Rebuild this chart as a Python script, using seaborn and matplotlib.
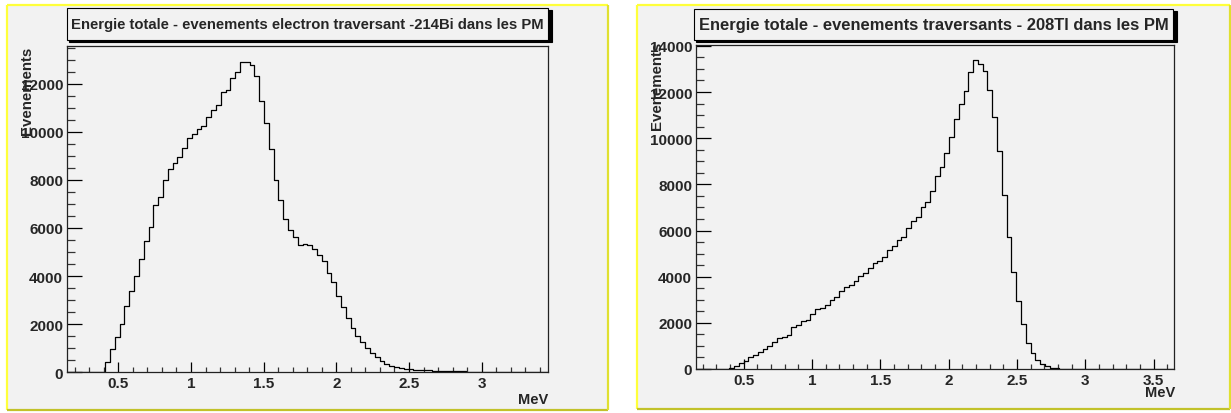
import numpy as np
import pandas as pd
import matplotlib
matplotlib.use("Agg")
import matplotlib.pyplot as plt
from matplotlib.patches import Rectangle
from matplotlib.ticker import MultipleLocator, FuncFormatter
import seaborn as sns

# ---------------- data ----------------
bi_title = "Energie totale - evenements electron traversant -214Bi dans les PM"
tl_title = "Energie totale - evenements traversants - 208Tl dans les PM"
y_label = "Evenements"
x_label = "MeV"

bi_range = (0.145, 3.456)
tl_range = (0.148, 3.649)
n_bins = 100

bi_counts = [0, 0, 0, 0, 0, 0, 0, 30, 415, 955,
             1453, 2007, 2740, 3391, 4014, 4692, 5467, 6034, 6962, 7280,
             8013, 8442, 8705, 8968, 9342, 9743, 9923, 10117, 10255, 10629,
             10906, 11127, 11653, 11736, 12221, 12484, 12885, 12913, 12760, 12331,
             11280, 10380, 9300, 8000, 7169, 6366, 5924, 5633, 5273, 5342,
             5273, 5107, 4886, 4636, 4110, 3737, 3169, 2726, 2270, 1855,
             1522, 1246, 996, 789, 623, 470, 360, 250, 200, 170,
             140, 125, 110, 100, 90, 80, 70, 60, 55, 50,
             45, 40, 35, 30, 25, 20, 0, 0, 0, 0,
             0, 0, 0, 0, 0, 0, 0, 0, 0, 0]

tl_counts = [0, 0, 0, 0, 0, 0, 0, 30, 115, 245,
             360, 505, 606, 721, 851, 1010, 1169, 1328, 1400, 1472,
             1804, 1905, 2063, 2136, 2367, 2597, 2655, 2785, 2973, 3117,
             3362, 3535, 3636, 3795, 4012, 4141, 4358, 4574, 4690, 4834,
             5152, 5310, 5570, 5700, 6118, 6421, 6566, 7027, 7215, 7691,
             8341, 8773, 9351, 10072, 10851, 11501, 12063, 12886, 13391, 13232,
             12929, 12092, 10938, 9423, 7532, 5700, 4214, 2929, 1948, 1126,
             693, 404, 216, 115, 60, 45, 20, 15, 12, 10,
             8, 5, 0, 0, 0, 0, 0, 0, 0, 0,
             0, 0, 0, 0, 0, 0, 0, 0, 0, 0]

bi_ymax = 13550
tl_ymax = 14050
bi_yticks = [0, 2000, 4000, 6000, 8000, 10000, 12000]
tl_yticks = [0, 2000, 4000, 6000, 8000, 10000, 12000, 14000]
bi_xticks = [0.5, 1, 1.5, 2, 2.5, 3]
tl_xticks = [0.5, 1, 1.5, 2, 2.5, 3, 3.5]

# ---------------- style ----------------
sns.set_style("ticks")
plt.rcParams['font.family'] = ['Liberation Sans', 'DejaVu Sans']
plt.rcParams['font.weight'] = 'bold'

W, H = 1231, 414
BG = '#f2f2f2'
fig = plt.figure(figsize=(W / 100, H / 100), dpi=100)
fig.patch.set_facecolor('white')


def fx(px):
    return px / W


def fy(py):
    return 1 - py / H


def pad_box(x0, y0, x1, y1):
    fig.add_artist(Rectangle((fx(x0), fy(y1)), fx(x1) - fx(x0), fy(y0) - fy(y1),
                             transform=fig.transFigure, facecolor=BG,
                             edgecolor='none', zorder=0))
    lw = 1.6
    kw = dict(transform=fig.transFigure, lw=lw, solid_capstyle='butt', zorder=1)
    fig.add_artist(plt.Line2D([fx(x0), fx(x1)], [fy(y0), fy(y0)], color='#ffff3a', **kw))
    fig.add_artist(plt.Line2D([fx(x0), fx(x0)], [fy(y0), fy(y1)], color='#ffff3a', **kw))
    fig.add_artist(plt.Line2D([fx(x0), fx(x1)], [fy(y1), fy(y1)], color='#c2c22a', **kw))
    fig.add_artist(plt.Line2D([fx(x1), fx(x1)], [fy(y0), fy(y1)], color='#e0e030', **kw))


def title_box(x0, y0, x1, y1, text, size):
    # shadow
    fig.add_artist(Rectangle((fx(x0 + 2), fy(y1)), fx(x1) - fx(x0), fy(y0 + 2) - fy(y1),
                             transform=fig.transFigure, facecolor='black',
                             edgecolor='black', lw=0.8, zorder=2))
    fig.add_artist(Rectangle((fx(x0), fy(y1 - 2)), fx(x1 - 2) - fx(x0), fy(y0) - fy(y1 - 2),
                             transform=fig.transFigure, facecolor=BG,
                             edgecolor='black', lw=0.8, zorder=3))
    fig.text(fx((x0 + x1 - 2) / 2), fy((y0 + y1 - 2) / 2), text, ha='center', va='center',
             fontsize=size, fontweight='bold', zorder=4)


def draw_panel(rect, counts, rng, ymax, yticks, xticks):
    x0, y0, x1, y1 = rect
    ax = fig.add_axes([fx(x0), fy(y1), fx(x1) - fx(x0), fy(y0) - fy(y1)])
    ax.set_facecolor(BG)
    width = (rng[1] - rng[0]) / n_bins
    centers = rng[0] + width * (np.arange(n_bins) + 0.5)
    df = pd.DataFrame({'E': centers, 'n': counts})
    sns.histplot(data=df, x='E', weights='n', bins=n_bins, binrange=rng, element='step',
                 fill=False, color='black', linewidth=0.9, ax=ax)
    ax.set_xlim(rng)
    ax.set_ylim(0, ymax)
    ax.set_xlabel('')
    ax.set_ylabel('')
    ax.set_yticks(yticks)
    ax.set_xticks(xticks)
    ax.xaxis.set_minor_locator(MultipleLocator(0.1))
    ax.yaxis.set_minor_locator(MultipleLocator(500))
    ax.xaxis.set_major_formatter(FuncFormatter(lambda v, p: '%g' % v))
    ax.yaxis.set_major_formatter(FuncFormatter(lambda v, p: '%d' % v))
    ax.tick_params(axis='y', which='major', direction='in', length=10.8, width=0.9,
                   labelsize=11, pad=2.5, color='black')
    ax.tick_params(axis='y', which='minor', direction='in', length=5.8, width=0.9, color='#333333')
    ax.tick_params(axis='x', which='major', direction='in', length=7.2, width=0.9,
                   labelsize=11, pad=3.0, color='black')
    ax.tick_params(axis='x', which='minor', direction='in', length=3.6, width=0.9, color='#333333')
    for lab in ax.get_xticklabels() + ax.get_yticklabels():
        lab.set_fontweight('bold')
    for s in ax.spines.values():
        s.set_visible(True)
        s.set_linewidth(0.9)
        s.set_color('#222222')
    ax.grid(False)
    return ax


# left pad
pad_box(6.5, 6, 608, 411)
draw_panel((66.7, 47.3, 548, 373.3), bi_counts, bi_range, bi_ymax, bi_yticks, bi_xticks)
title_box(66.7, 9.3, 550, 42.7, bi_title, 10.75)
fig.text(fx(27), fy(47), y_label, rotation=90, ha='center', va='top',
         fontsize=10.8, fontweight='bold')
fig.text(fx(548), fy(400), x_label, ha='right', va='center', fontsize=10.5, fontweight='bold')

# right pad
pad_box(636.7, 6, 1230, 410)
draw_panel((695.7, 45.7, 1174, 370), tl_counts, tl_range, tl_ymax, tl_yticks, tl_xticks)
title_box(694, 9.5, 1175, 42.7, tl_title, 11.9)
fig.text(fx(656.7), fy(42), y_label, rotation=90, ha='center', va='top',
         fontsize=10.8, fontweight='bold')
fig.text(fx(1175), fy(393), x_label, ha='right', va='center', fontsize=10.5, fontweight='bold')

fig.savefig('out.png', dpi=100, facecolor=fig.get_facecolor())
